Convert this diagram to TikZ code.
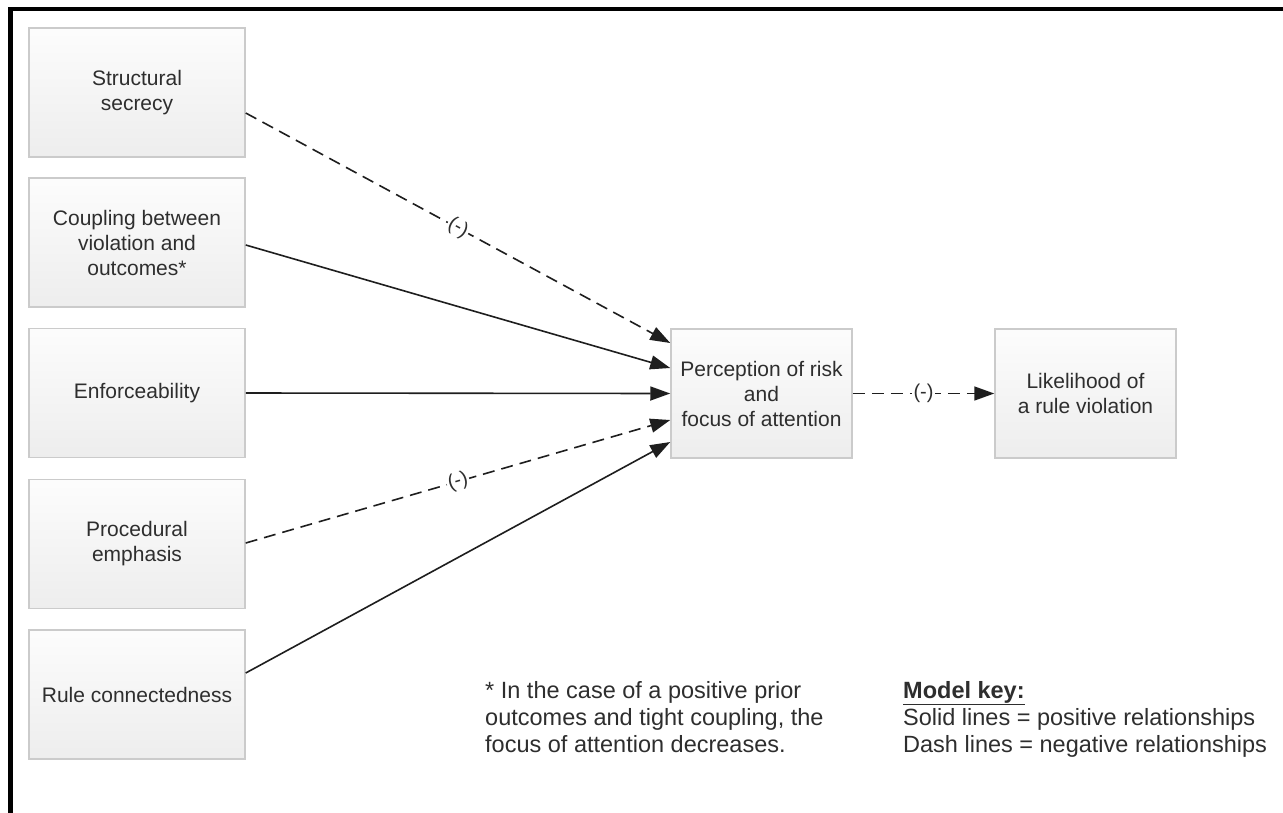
\documentclass[tikz,border=0pt]{standalone}
\usepackage{fontspec}
\setmainfont{Liberation Sans}
\usetikzlibrary{arrows.meta}
\definecolor{txt}{HTML}{2E2E2E}
\definecolor{ln}{HTML}{1E1E1E}
\definecolor{boxline}{HTML}{CBCBCB}
\tikzset{
  factor/.style={rectangle, draw=boxline, line width=1.5pt,
    top color=white!99!black, bottom color=white!93!black,
    minimum width=216pt, minimum height=129pt, inner sep=2pt,
    align=center, text=txt, font=\fontsize{21}{25}\selectfont},
  midbox/.style={factor, minimum width=181pt},
  conn/.style={draw=ln, line width=1.6pt, -{Triangle[length=20pt,width=14pt]}},
  neg/.style={conn, dash pattern=on 12pt off 7pt},
  sign/.style={fill=white, inner sep=1.5pt, text=txt, sloped, font=\fontsize{20}{24}\selectfont},
  note/.style={anchor=north west, inner sep=0pt, align=left, text=txt,
    font=\fontsize{23.5}{27}\selectfont}
}
\begin{document}
\begin{tikzpicture}[x=1pt,y=-1pt]
\useasboundingbox (0,0) rectangle (1283,812);
\fill[white] (0,0) rectangle (1283,812);
\clip (0,0) rectangle (1283,812);
% frame
\draw[line width=4.5pt, black] (10.3,830) -- (10.3,9) -- (1300,9);
% factor boxes
\node[factor] (sec) at (137,92.5) {Structural\\secrecy};
\node[factor] (cou) at (137,242.5) {Coupling between\\violation and\\outcomes*};
\node[factor] (enf) at (137,393) {Enforceability};
\node[factor] (pro) at (137,544) {Procedural\\emphasis};
\node[factor] (rul) at (137,694.5) {Rule connectedness};
\node[midbox] (per) at (761.5,393.5) {Perception of risk\\and\\focus of attention};
\node[midbox] (lik) at (1085.5,393.5) {Likelihood of\\a rule violation};
% connectors
\draw[neg] ([yshift=-20.5pt]sec.east) -- node[sign] {(-)} ([yshift=50.5pt]per.west);
\draw[conn] ([yshift=-2.5pt]cou.east) -- ([yshift=25.5pt]per.west);
\draw[conn] (enf.east) -- (per.west);
\draw[neg] ([yshift=1pt]pro.east) -- node[sign] {(-)} ([yshift=-26.5pt]per.west);
\draw[conn] ([yshift=21.5pt]rul.east) -- ([yshift=-48.5pt]per.west);
\draw[neg] (per.east) -- node[sign] {(-)} (lik.west);
% notes
\node[note] (foot) at (485,681) {* In the case of a positive prior\\outcomes and tight coupling, the\\focus of attention decreases.};
\node[note] (key) at (903,681) {\textbf{\underline{Model key:}}\\Solid lines = positive relationships\\Dash lines = negative relationships};
\end{tikzpicture}
\end{document}
